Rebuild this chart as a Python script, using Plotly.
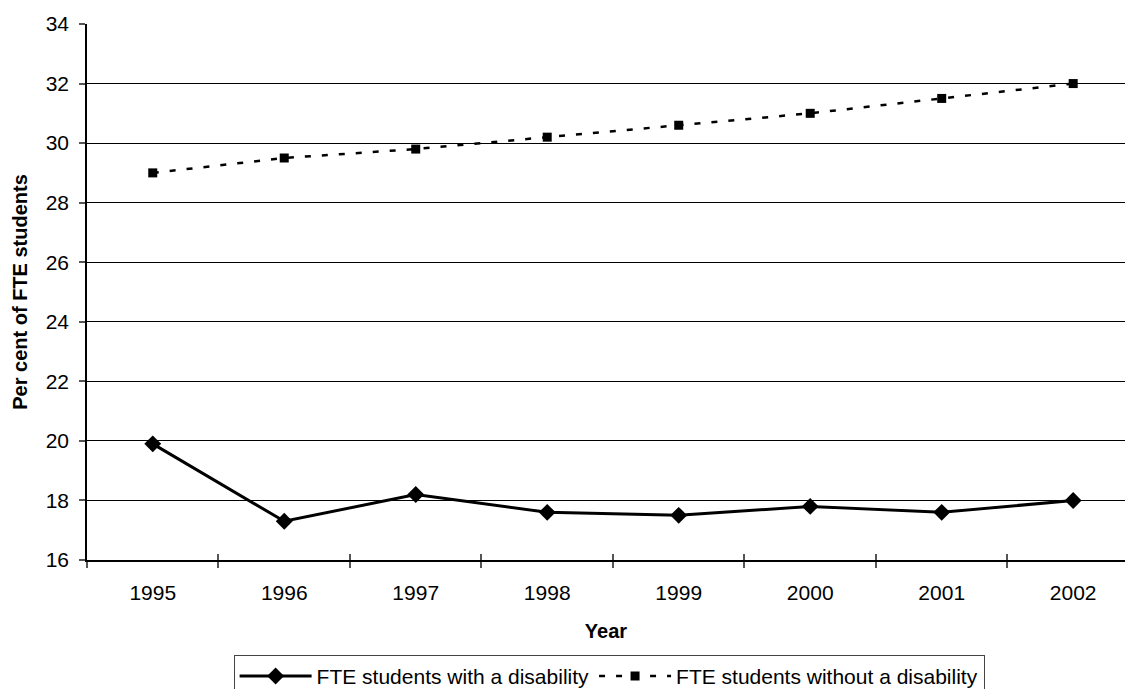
import plotly.graph_objects as go

years = ["1995", "1996", "1997", "1998", "1999", "2000", "2001", "2002"]
with_disability = [19.9, 17.3, 18.2, 17.6, 17.5, 17.8, 17.6, 18.0]
without_disability = [29.0, 29.5, 29.8, 30.2, 30.6, 31.0, 31.5, 32.0]
y_ticks = [16, 18, 20, 22, 24, 26, 28, 30, 32, 34]

FONT = "Liberation Sans, Arial, sans-serif"

fig = go.Figure()
fig.add_trace(go.Scatter(
    x=years, y=with_disability, name="FTE students with a disability",
    mode="lines+markers",
    line=dict(color="black", width=3),
    marker=dict(symbol="diamond", size=13, color="black"),
))
fig.add_trace(go.Scatter(
    x=years, y=without_disability, name="FTE students without a disability",
    mode="lines+markers",
    line=dict(color="black", width=2.5, dash="6px,11px"),
    marker=dict(symbol="square", size=9, color="black"),
))
# invisible trace carrying the inward half of the category tick marks
fig.add_trace(go.Scatter(x=years, y=with_disability, xaxis="x2", mode="none",
                         showlegend=False, hoverinfo="skip"))

x_range = [-0.5, 7.394]
fig.update_layout(
    width=1125, height=689,
    margin=dict(l=87, r=0, t=24, b=129, autoexpand=False),
    paper_bgcolor="white", plot_bgcolor="white",
    font=dict(family=FONT, size=21, color="black"),
    showlegend=True,
    legend=dict(
        orientation="h", x=0.503, xanchor="center", y=-0.177, yanchor="top",
        bordercolor="#444", borderwidth=1, bgcolor="white",
        font=dict(family=FONT, size=21, color="black"),
        itemwidth=72, tracegroupgap=0,
    ),
    xaxis=dict(
        type="category", range=x_range,
        showline=True, linecolor="black", linewidth=1.5,
        ticks="outside", ticklen=6, tickcolor="#555", tickwidth=1.5,
        tickson="boundaries", showgrid=False,
        tickfont=dict(size=21), ticklabelstandoff=13,
        title=dict(text="<b>Year</b>", font=dict(size=20), standoff=21),
    ),
    xaxis2=dict(
        type="category", range=x_range, overlaying="x", anchor="y",
        ticks="inside", ticklen=6, tickcolor="#555", tickwidth=1.5,
        tickson="boundaries", showticklabels=False, showgrid=False,
        showline=False,
    ),
    yaxis=dict(
        range=[16, 34], tickvals=y_ticks, showgrid=True,
        gridcolor="black", gridwidth=1, zeroline=False,
        showline=True, linecolor="black", linewidth=1.5,
        ticks="outside", ticklen=6, tickcolor="#555", tickwidth=1.5,
        tickfont=dict(size=21), ticklabelstandoff=6,
        title=dict(text="<b>Per cent of FTE students</b>", font=dict(size=20), standoff=13),
    ),
)

fig.write_html("out.html")
